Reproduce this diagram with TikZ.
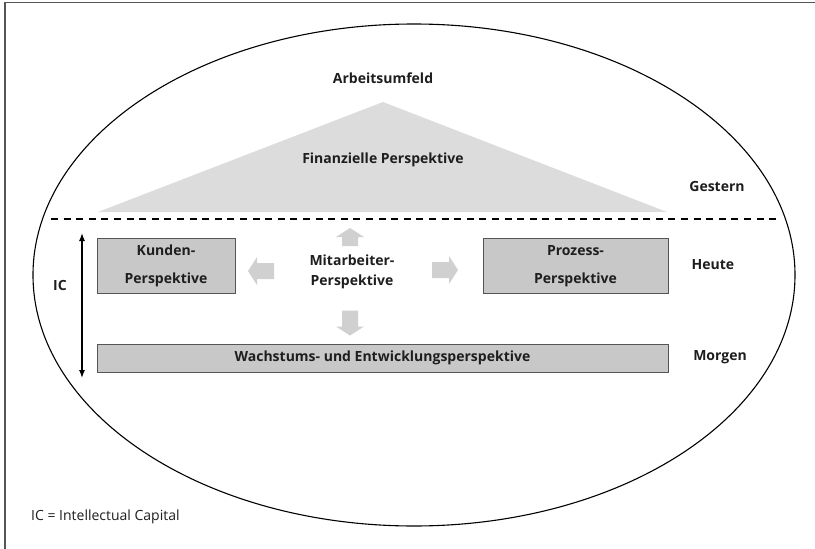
\documentclass[tikz,border=0pt]{standalone}
\usepackage{fontspec}
\setmainfont{Open Sans}
\usepackage{tikz}
\usepackage{xcolor}
\usetikzlibrary{arrows.meta}
\usetikzlibrary{calc}
\definecolor{trigray}{HTML}{DCDCDD}
\definecolor{boxgray}{HTML}{C8C8C9}
\definecolor{arrowgray}{HTML}{D0D0D1}
\definecolor{framegray}{HTML}{555555}
\definecolor{textgray}{HTML}{1E1E1E}
\newcommand*\grayarrow[4]{% x, y, Winkel, Laenge
	\fill[arrowgray, shift={(#1,#2)}, rotate=#3]
	(-#4/2,-8) -- (#4/2-9,-8) -- (#4/2-9,-14) -- (#4/2,0)
	-- (#4/2-9,14) -- (#4/2-9,8) -- (-#4/2,8) -- cycle;}
\tikzset{
	lbl/.style={font=\fontsize{14}{16}\selectfont\bfseries, text=textgray, inner sep=0pt},
	perspbox/.style={draw=framegray, line width=1pt, fill=boxgray, inner sep=0pt,
		font=\fontsize{14}{28}\selectfont\bfseries, text=textgray, align=center}
}
\begin{document}
\begin{tikzpicture}[x=1pt, y=-1pt]
		\useasboundingbox (0,0) rectangle (815,549);
		\draw[framegray, line width=1.5pt] (5,549) -- (5,2.5) -- (815,2.5); % Rahmen
		\draw[line width=1.1pt] (414,275) ellipse [x radius=381, y radius=251];
		% Dach
		\fill[trigray] (98,212) -- (383,102) -- (667,212) -- cycle;
		\node[lbl] (arbeit) at (383,78) {Arbeitsumfeld};
		\node[lbl] (finanz) at (383,160) {Finanzielle Perspektive};
		\node[lbl] (gestern) at (717,186) {Gestern};
		\coordinate (dl) at (51,219);
		\coordinate (dr) at (781,219);
		\draw[line width=2.4pt, dash pattern=on 7pt off 5.6pt] (dl) -- (dr);
		% Perspektiven
		\node[perspbox, minimum width=138, minimum height=55] (kunden) at (166,266)
		{Kunden-\\Perspektive};
		\node[perspbox, minimum width=185, minimum height=55] (prozess) at (575.5,266)
		{Prozess-\\Perspektive};
		\node[perspbox, minimum width=571, minimum height=28] (wachstum) at (382.5,358)
		{Wachstums- und Entwicklungsperspektive};
		\node[lbl, align=center, font=\fontsize{14}{20}\selectfont\bfseries] (mitarb) at (352,272)
		{Mitarbeiter-\\Perspektive};
		\grayarrow{350}{237}{90}{18}
		\grayarrow{261}{271}{180}{26}
		\grayarrow{445}{270}{0}{26}
		\grayarrow{350}{323}{-90}{25}
		\node[lbl] (heute) at (713,265) {Heute};
		\node[lbl] (morgen) at (720,357) {Morgen};
		% IC
		\coordinate (ictop) at (82,233);
		\coordinate (icbot) at (82,378);
		\draw[{Latex[length=8pt,width=6pt]}-{Latex[length=8pt,width=6pt]}, line width=1.3pt] (ictop) -- (icbot);
		\node[lbl] (ic) at (60,285) {IC};
		\node[anchor=west, inner sep=0pt, text=textgray, font=\fontsize{14}{16}\selectfont] (legende) at (31,517)
		{IC = Intellectual Capital};
	\end{tikzpicture}
\end{document}
